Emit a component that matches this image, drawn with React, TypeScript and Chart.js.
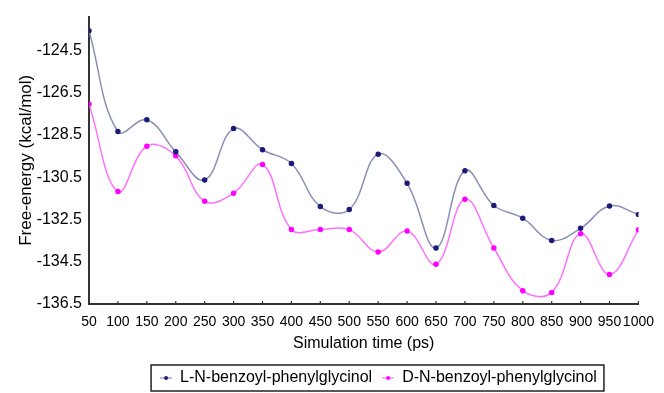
import React, { useEffect, useRef } from "react";
import { Chart, registerables } from "chart.js";

Chart.register(...registerables);

const times = [50, 100, 150, 200, 250, 300, 350, 400, 450, 500, 550, 600, 650, 700, 750, 800, 850, 900, 950, 1000];
const lSeries = [-123.57, -128.34, -127.78, -129.3, -130.63, -128.2, -129.2, -129.85, -131.89, -132.03, -129.41, -130.79, -133.85, -130.19, -131.84, -132.44, -133.49, -132.92, -131.86, -132.26];
const dSeries = [-127.03, -131.18, -129.03, -129.49, -131.64, -131.26, -129.9, -132.97, -132.97, -132.98, -134.04, -133.05, -134.62, -131.54, -133.85, -135.87, -135.95, -133.17, -135.1, -132.99];
const yTicks = [-136.5, -134.5, -132.5, -130.5, -128.5, -126.5, -124.5];
const xTicks = times;
const seriesNames = ["L-N-benzoyl-phenylglycinol", "D-N-benzoyl-phenylglycinol"];

const FONT = "Arial, 'Liberation Sans', sans-serif";

function makeMarker(lineColor: string, dotColor: string) {
  const c = document.createElement("canvas");
  c.width = 12;
  c.height = 8;
  const ctx = c.getContext("2d")!;
  ctx.strokeStyle = lineColor;
  ctx.lineWidth = 1.2;
  ctx.beginPath();
  ctx.moveTo(0, 4);
  ctx.lineTo(12, 4);
  ctx.stroke();
  ctx.fillStyle = dotColor;
  ctx.beginPath();
  ctx.arc(6, 4, 2, 0, Math.PI * 2);
  ctx.fill();
  return c;
}

export default function App() {
  const ref = useRef<HTMLCanvasElement | null>(null);

  useEffect(() => {
    document.body.style.margin = "0";
    const canvas = ref.current;
    if (!canvas) return;

    const lMarker = makeMarker("#8a8fb8", "#1c1c78");
    const dMarker = makeMarker("#ff70ff", "#ff00ff");

    const extras = {
      id: "extras",
      afterLayout(chart: any) {
        const lg = chart.legend;
        if (lg) {
          const shift = 378.5 - (lg.left + lg.right) / 2;
          lg.left += shift;
          lg.right += shift;
          const dy = 378 - (lg.top + 18);
          lg.top += dy;
          lg.bottom += dy;
        }
      },
      afterDraw(chart: any) {
        const ctx = chart.ctx;
        const x = chart.scales.x;
        const bottom = chart.chartArea.bottom;
        ctx.save();
        ctx.strokeStyle = "#333";
        ctx.lineWidth = 1.2;
        xTicks.forEach((v) => {
          const px = x.getPixelForValue(v);
          ctx.beginPath();
          ctx.moveTo(px, bottom);
          ctx.lineTo(px, bottom - 3);
          ctx.stroke();
        });
        const lg = chart.legend;
        if (lg && lg.lineWidths) {
          const w = lg.lineWidths[0];
          const cx = (lg.left + lg.right) / 2;
          ctx.strokeStyle = "#222";
          ctx.lineWidth = 1.5;
          ctx.strokeRect(cx - w / 2 - 4, 365, w + 6, 26);
        }
        ctx.restore();
      },
    };

    const chart = new Chart(canvas, {
      type: "line",
      data: {
        datasets: [
          {
            label: seriesNames[0],
            data: times.map((t, i) => ({ x: t, y: lSeries[i] })),
            borderColor: "#8a8fb8",
            backgroundColor: "#1c1c78",
            pointBackgroundColor: "#1c1c78",
            pointBorderColor: "#1c1c78",
            pointStyle: "circle",
            pointRadius: 2,
            borderWidth: 1.5,
            tension: 0.4,
          },
          {
            label: seriesNames[1],
            data: times.map((t, i) => ({ x: t, y: dSeries[i] })),
            borderColor: "#ff70ff",
            backgroundColor: "#ff00ff",
            pointBackgroundColor: "#ff00ff",
            pointBorderColor: "#ff00ff",
            pointStyle: "circle",
            pointRadius: 2,
            borderWidth: 1.5,
            tension: 0.4,
          },
        ],
      },
      options: {
        animation: false,
        responsive: false,
        devicePixelRatio: 1,
        layout: { padding: { top: 15, right: 23, bottom: 0, left: 0 } },
        plugins: {
          tooltip: { enabled: false },
          legend: {
            position: "bottom",
            labels: {
              usePointStyle: true,
              pointStyleWidth: 12,
              color: "#000",
              font: { family: FONT, size: 16 },
              padding: 10,
              generateLabels: (chart: any) =>
                chart.data.datasets.map((ds: any, i: number) => ({
                  text: ds.label,
                  pointStyle: i === 0 ? lMarker : dMarker,
                  fillStyle: ds.backgroundColor,
                  strokeStyle: ds.borderColor,
                  lineWidth: 0,
                  datasetIndex: i,
                  hidden: false,
                  fontColor: "#000",
                })),
            },
          },
        },
        scales: {
          x: {
            type: "linear",
            min: 50,
            max: 1000,
            afterBuildTicks: (s: any) => {
              s.ticks = xTicks.map((v) => ({ value: v }));
            },
            afterFit: (s: any) => {
              const lh = s.chart.legend ? s.chart.legend.height : 36;
              s.height = 393 - 304 - lh;
            },
            grid: { display: true, drawOnChartArea: false, drawTicks: false },
            border: { display: true, color: "#333", width: 2 },
            ticks: {
              color: "#000",
              font: { family: FONT, size: 14 },
              padding: 10,
              maxRotation: 0,
              autoSkip: false,
              callback: (v: any) => String(v),
            },
            title: {
              display: true,
              text: "Simulation time (ps)",
              color: "#000",
              font: { family: FONT, size: 16 },
              padding: { top: 0, bottom: 4 },
            },
          },
          y: {
            min: -136.5,
            max: -122.9,
            afterBuildTicks: (s: any) => {
              s.ticks = yTicks.map((v) => ({ value: v }));
            },
            afterFit: (s: any) => {
              s.width = 89;
            },
            grid: { display: true, drawOnChartArea: false, drawTicks: false },
            border: { display: true, color: "#333", width: 2 },
            ticks: {
              color: "#000",
              font: { family: FONT, size: 16 },
              padding: 7,
              callback: (v: any) => Number(v).toFixed(1),
            },
            title: {
              display: true,
              text: "Free-energy (kcal/mol)",
              color: "#000",
              font: { family: FONT, size: 17 },
              padding: { top: 16, bottom: 0 },
            },
          },
        },
      },
      plugins: [extras],
    });

    return () => chart.destroy();
  }, []);

  return (
    <div style={{ width: 664, height: 393 }}>
      <canvas ref={ref} width={664} height={393} style={{ display: "block" }} />
    </div>
  );
}
